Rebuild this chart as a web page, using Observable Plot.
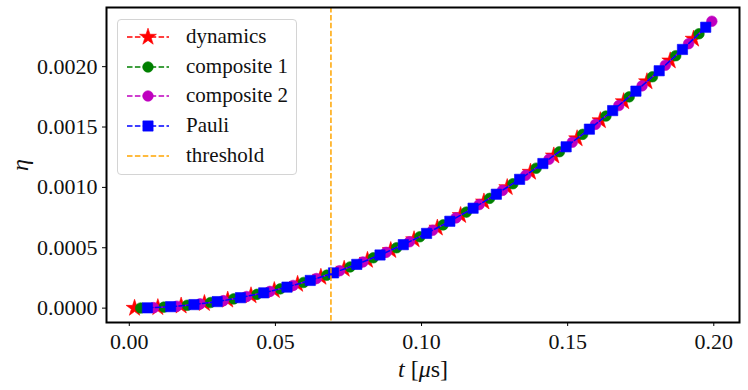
<!DOCTYPE html>
<html>
<head>
<meta charset="utf-8">
<script src="https://cdn.jsdelivr.net/npm/d3@7"></script>
<script src="https://cdn.jsdelivr.net/npm/@observablehq/plot@0.6"></script>
<style>
  body { margin: 0; background: #fff; }
  #wrap { position: relative; width: 748px; height: 390px; }
  #legend { position: absolute; left: 117px; top: 19px; width: 180px; height: 156px;
    border: 1px solid #d4d4d4; border-radius: 4px; background: rgba(255,255,255,0.85);
    box-sizing: border-box; font-family: "Liberation Serif", "DejaVu Serif", serif; font-size: 21px; color: #111; }
  .row { position: absolute; left: 0; height: 30px; width: 178px; }
  .row svg { position: absolute; left: 8px; top: 0; }
  .row span { position: absolute; left: 68px; top: 2px; white-space: nowrap; }
</style>
</head>
<body>
<div id="wrap"></div>
<script>
// ---- data ----
const tDynamics = [0.0018,0.00977,0.01774,0.02571,0.03368,0.04165,0.04962,0.05759,0.06556,0.07353,0.0815,0.08947,0.09744,0.10541,0.11338,0.12135,0.12932,0.13729,0.14526,0.15323,0.1612,0.16917,0.17714,0.18511,0.19308];
const etaDynamics = [0.0000002,0.0000057,0.0000188,0.0000395,0.0000678,0.0001037,0.0001472,0.0001983,0.000257,0.0003233,0.0003972,0.0004787,0.0005678,0.0006645,0.0007687,0.0008806,0.0010001,0.0011272,0.0012618,0.0014041,0.0015539,0.0017114,0.0018764,0.0020491,0.0022293];

const tComposite1 = [0.0039,0.01186,0.01982,0.02778,0.03574,0.0437,0.05166,0.05962,0.06758,0.07554,0.0835,0.09146,0.09942,0.10738,0.11534,0.1233,0.13126,0.13922,0.14718,0.15514,0.1631,0.17106,0.17902,0.18698,0.19494];
const etaComposite1 = [0.0000009,0.0000084,0.0000235,0.0000462,0.0000764,0.0001142,0.0001596,0.0002126,0.0002731,0.0003412,0.0004169,0.0005002,0.0005911,0.0006895,0.0007955,0.0009091,0.0010303,0.0011591,0.0012954,0.0014393,0.0015908,0.0017498,0.0019165,0.0020907,0.0022725];

const tComposite2 = [0.0083,0.01626,0.02422,0.03218,0.04014,0.0481,0.05606,0.06402,0.07198,0.07994,0.0879,0.09586,0.10382,0.11178,0.11974,0.1277,0.13566,0.14362,0.15158,0.15954,0.1675,0.17546,0.18342,0.19138,0.19934];
const etaComposite2 = [0.0000041,0.0000158,0.0000351,0.0000619,0.0000964,0.0001384,0.0001879,0.0002451,0.0003098,0.0003822,0.000462,0.0005495,0.0006446,0.0007472,0.0008574,0.0009752,0.0011005,0.0012335,0.001374,0.0015221,0.0016778,0.001841,0.0020119,0.0021903,0.0023762];

const tPauli = [0.0062,0.01416,0.02212,0.03008,0.03804,0.046,0.05396,0.06192,0.06988,0.07784,0.0858,0.09376,0.10172,0.10968,0.11764,0.1256,0.13356,0.14152,0.14948,0.15744,0.1654,0.17336,0.18132,0.18928,0.19724];
const etaPauli = [0.0000023,0.000012,0.0000293,0.0000541,0.0000865,0.0001265,0.0001741,0.0002293,0.000292,0.0003623,0.0004402,0.0005257,0.0006188,0.0007194,0.0008276,0.0009434,0.0010667,0.0011977,0.0013362,0.0014823,0.001636,0.0017972,0.001966,0.0021425,0.0023264];

const threshold = [0.069];
const seriesNames = ["dynamics", "composite 1", "composite 2", "Pauli", "threshold"];
const xTicks = [0, 0.05, 0.10, 0.15, 0.20];
const yTicks = [0, 0.0005, 0.0010, 0.0015, 0.0020];

// ---- styles ----
const FONT = '"Liberation Serif", "DejaVu Serif", serif';
const styles = [
  {color: "#ff0000", symbol: "star", r: 5.3},
  {color: "#008000", symbol: "circle", r: 5.3},
  {color: "#bf00bf", symbol: "circle", r: 5.3},
  {color: "#0000ff", symbol: "square", r: 5.8}
];
const tArrays = [tDynamics, tComposite1, tComposite2, tPauli];
const etaArrays = [etaDynamics, etaComposite1, etaComposite2, etaPauli];
const dash = "5.5,2.4";

const marks = [];
tArrays.forEach((ts, i) => {
  const data = ts.map((t, j) => ({t, eta: etaArrays[i][j]}));
  const s = styles[i];
  marks.push(Plot.line(data, {x: "t", y: "eta", stroke: s.color, strokeWidth: 1.5, strokeDasharray: dash}));
  marks.push(Plot.dot(data, {x: "t", y: "eta", symbol: () => s.symbol, r: s.r, fill: s.color, stroke: s.color, strokeWidth: 0.6}));
});
marks.push(Plot.ruleX(threshold, {stroke: "#ffa500", strokeWidth: 1.5, strokeDasharray: dash}));
marks.push(Plot.frame({stroke: "black", strokeWidth: 2}));
marks.push(Plot.axisX({ticks: xTicks, tickFormat: d3.format(".2f"), tickSize: 4, tickPadding: 7, label: null, stroke: "black"}));
marks.push(Plot.axisY({ticks: yTicks, tickFormat: d3.format(".4f"), tickSize: 4, tickPadding: 5, label: null, stroke: "black"}));

const chart = Plot.plot({
  width: 748, height: 390,
  marginLeft: 106, marginRight: 9, marginTop: 7, marginBottom: 68,
  x: {domain: [-0.0078, 0.2088]},
  y: {domain: [-0.000119, 0.00249]},
  symbol: {type: "identity"},
  style: {fontFamily: FONT, fontSize: "22px", color: "#111", background: "white"},
  marks
});
document.getElementById("wrap").appendChild(chart);

// axis titles
const svg = d3.select(chart);
const xl = svg.append("text").attr("x", 423).attr("y", 377).attr("text-anchor", "middle")
  .attr("font-size", 24).style("font-family", FONT).attr("fill", "#111");
xl.append("tspan").attr("font-style", "italic").text("t");
xl.append("tspan").text(" [");
xl.append("tspan").attr("font-style", "italic").text("μ");
xl.append("tspan").text("s]");
svg.append("text").attr("transform", "translate(28,165) rotate(-90)").attr("text-anchor", "middle")
  .attr("font-size", 24).attr("font-style", "italic").style("font-family", FONT).attr("fill", "#111").text("η");

// legend
const legend = document.createElement("div");
legend.id = "legend";
const legendColors = ["#ff0000", "#008000", "#bf00bf", "#0000ff", "#ffa500"];
const legendSymbols = ["star", "circle", "circle", "square", null];
seriesNames.forEach((name, i) => {
  const row = document.createElement("div");
  row.className = "row";
  row.style.top = (2 + i * 29.7) + "px";
  const c = legendColors[i];
  let sym = "";
  if (legendSymbols[i]) {
    const sz = styles[i].r;
    const gen = d3.symbol(legendSymbols[i] === "star" ? d3.symbolStar : legendSymbols[i] === "square" ? d3.symbolSquare : d3.symbolCircle, sz * sz * Math.PI);
    sym = `<path d="${gen()}" transform="translate(22,15)" fill="${c}" stroke="${c}" stroke-width="0.6"/>`;
  }
  row.innerHTML = `<svg width="46" height="30"><line x1="1" y1="15" x2="43" y2="15" stroke="${c}" stroke-width="1.5" stroke-dasharray="${dash}"/>${sym}</svg><span>${name}</span>`;
  legend.appendChild(row);
});
document.getElementById("wrap").appendChild(legend);
</script>
</body>
</html>
